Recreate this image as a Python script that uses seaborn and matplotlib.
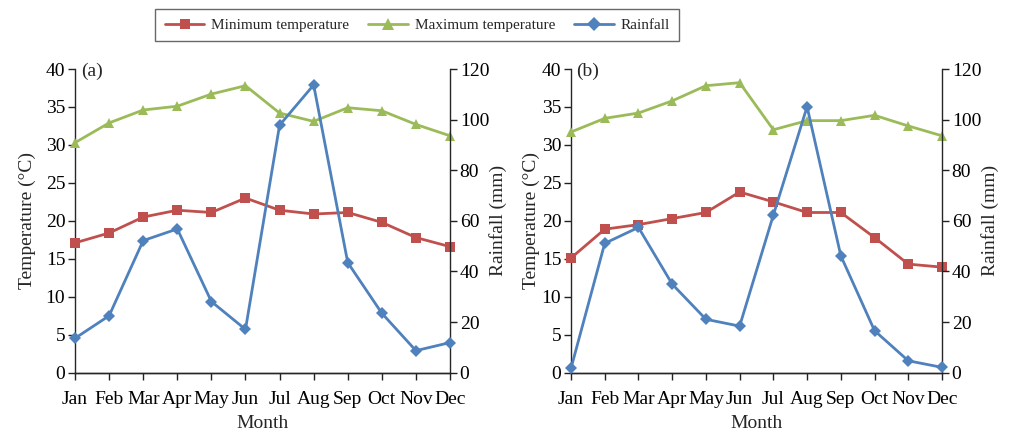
import numpy as np
import pandas as pd
import matplotlib
matplotlib.use('Agg')
import matplotlib.pyplot as plt
import seaborn as sns
from matplotlib.lines import Line2D

months = ['Jan', 'Feb', 'Mar', 'Apr', 'May', 'Jun', 'Jul', 'Aug', 'Sep', 'Oct', 'Nov', 'Dec']

# panel (a)
min_temp_a = [17.1, 18.4, 20.5, 21.4, 21.1, 23.0, 21.4, 20.9, 21.1, 19.8, 17.8, 16.6]
max_temp_a = [30.3, 32.9, 34.6, 35.1, 36.7, 37.8, 34.2, 33.1, 34.9, 34.5, 32.7, 31.2]
rain_a = [13.6, 22.5, 52.2, 56.8, 28.1, 17.1, 97.8, 113.7, 43.5, 23.5, 8.7, 11.9]

# panel (b)
min_temp_b = [15.1, 18.9, 19.5, 20.3, 21.1, 23.8, 22.5, 21.1, 21.1, 17.8, 14.3, 13.9]
max_temp_b = [31.7, 33.5, 34.2, 35.8, 37.8, 38.2, 32.0, 33.2, 33.2, 33.9, 32.5, 31.2]
rain_b = [1.7, 51.1, 57.4, 35.0, 21.1, 18.4, 62.3, 105.1, 46.2, 16.6, 4.7, 2.1]

panel_labels = ['(a)', '(b)']

red = '#C0504D'
green = '#9BBB59'
blue = '#4F81BD'

sns.set_style('ticks')
plt.rcParams['font.family'] = ['Liberation Serif', 'DejaVu Serif']
plt.rcParams['font.size'] = 14
plt.rcParams['axes.linewidth'] = 1.0

fig = plt.figure(figsize=(10.14, 4.34), dpi=100)
positions = [[0.074, 0.1413, 0.3698, 0.6997], [0.5631, 0.1413, 0.3659, 0.6997]]
data = [(min_temp_a, max_temp_a, rain_a), (min_temp_b, max_temp_b, rain_b)]
left_pads = [7, 1]

for pos, (mn, mx, rn), lab, lpad in zip(positions, data, panel_labels, left_pads):
    ax = fig.add_axes(pos)
    ax2 = ax.twinx()
    df = pd.DataFrame({'x': np.arange(12), 'min': mn, 'max': mx, 'rain': rn})

    sns.lineplot(data=df, x='x', y='min', ax=ax, color=red, marker='s', markersize=6.5,
                 markeredgewidth=0, linewidth=2, clip_on=False, zorder=3)
    sns.lineplot(data=df, x='x', y='max', ax=ax, color=green, marker='^', markersize=7.5,
                 markeredgewidth=0, linewidth=2, clip_on=False, zorder=3)
    sns.lineplot(data=df, x='x', y='rain', ax=ax2, color=blue, marker='D', markersize=6,
                 markeredgewidth=0, linewidth=2, clip_on=False, zorder=3)

    ax.set_xlim(0, 11)
    ax.set_ylim(0, 40)
    ax.set_yticks(np.arange(0, 41, 5))
    ax2.set_ylim(0, 120)
    ax2.set_yticks(np.arange(0, 121, 20))
    ax.set_xticks(np.arange(12))
    ax.set_xticklabels(months)
    ax.set_xlabel('Month', labelpad=5)
    ax.set_ylabel('Temperature (°C)', labelpad=lpad)
    ax2.set_ylabel('Rainfall (mm)', labelpad=0)

    for a in (ax, ax2):
        a.spines['top'].set_visible(False)
        a.tick_params(direction='out', length=5, width=1, pad=2, colors='#222222',
                      labelcolor='black', labelsize=14)
    ax.spines['right'].set_visible(False)
    ax2.spines['left'].set_visible(False)
    ax.tick_params(axis='x', pad=8)
    ax.text(0.015, 1.02, lab, transform=ax.transAxes, ha='left', va='top', fontsize=14)

handles = [
    Line2D([], [], color=red, marker='s', markersize=7.5, markeredgewidth=0, linewidth=2),
    Line2D([], [], color=green, marker='^', markersize=8.5, markeredgewidth=0, linewidth=2),
    Line2D([], [], color=blue, marker='D', markersize=7, markeredgewidth=0, linewidth=2),
]
leg = fig.legend(handles, ['Minimum temperature', 'Maximum temperature', 'Rainfall'],
                 loc='center', bbox_to_anchor=(0.4117, 0.942), ncol=3, frameon=True,
                 fancybox=False, edgecolor='#444444', fontsize=11, handlelength=2.6,
                 columnspacing=1.25, handletextpad=0.45, borderpad=0.6)
leg.get_frame().set_linewidth(1.0)

fig.savefig('out.png', dpi=100)
